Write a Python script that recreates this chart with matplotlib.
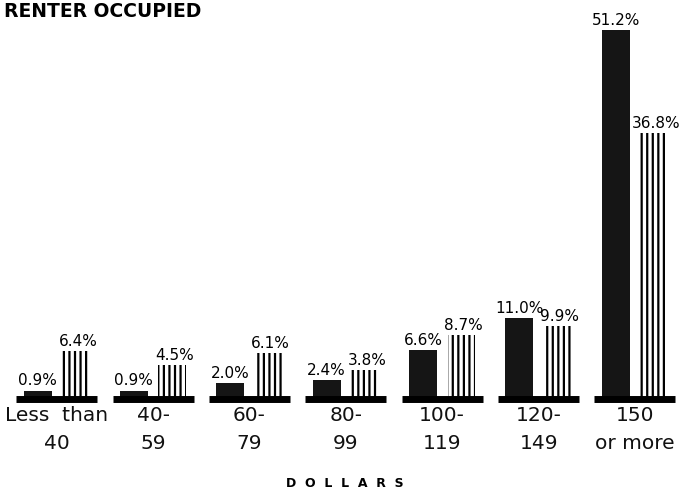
import numpy as np
import matplotlib.pyplot as plt

plt.rcParams['hatch.linewidth'] = 1.6

categories = ['Less  than\n40', '40-\n59', '60-\n79', '80-\n99', '100-\n119', '120-\n149', '150\nor more']
solid_vals = [0.9, 0.9, 2.0, 2.4, 6.6, 11.0, 51.2]
striped_vals = [6.4, 4.5, 6.1, 3.8, 8.7, 9.9, 36.8]

x = np.arange(len(categories))
w = 0.29
off = 0.2

fig = plt.figure(figsize=(6.86, 4.92), dpi=100)
ax = fig.add_axes([0, 0, 1, 1])
ax.set_xlim(-0.59, 6.53)
ax.set_ylim(-13.25, 55.4)
ax.axis('off')

ax.bar(x - off, solid_vals, w, color='#151515', linewidth=0)
ax.bar(x + off, striped_vals, w, facecolor='white', edgecolor='black',
       linewidth=0, hatch='|||')
ax.hlines(np.zeros(len(x)) - 0.25, x - 0.42, x + 0.42, color='black', lw=5)

for i in range(len(x)):
    ax.text(x[i] - off, solid_vals[i] + 0.3, '%.1f%%' % solid_vals[i],
            ha='center', va='bottom', fontsize=11)
    ax.text(x[i] + off + 0.02, striped_vals[i] + 0.3, '%.1f%%' % striped_vals[i],
            ha='center', va='bottom', fontsize=11)
    ax.text(x[i], -1.3, categories[i], ha='center', va='top', fontsize=14.5,
            linespacing=1.55, color='#111111')

ax.text(2.99, -12.0, 'D  O  L  L  A  R  S', ha='center', va='center', fontsize=9,
        fontweight='bold')
fig.text(0.006, 0.977, 'RENTER OCCUPIED', ha='left', va='center', fontsize=13.5,
         fontweight='bold')

plt.savefig('out.png', dpi=100)
